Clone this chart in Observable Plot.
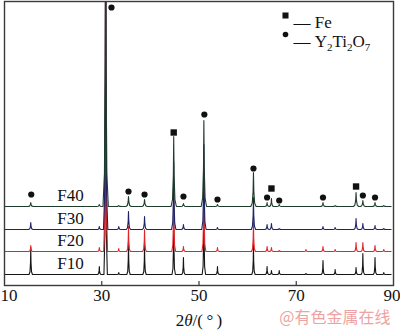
<!DOCTYPE html>
<html>
<head>
<meta charset="utf-8">
<script src="https://cdn.jsdelivr.net/npm/d3@7"></script>
<script src="https://cdn.jsdelivr.net/npm/@observablehq/plot@0.6"></script>
<style>
  html, body { margin: 0; padding: 0; background: #fff; }
  #chart { width: 400px; height: 333px; }
</style>
</head>
<body>
<div id="chart"></div>
<script>
// ---- data (intensity in arbitrary units) ----
const samples = ["F10", "F20", "F30", "F40"];
const sampleColors = ["#151515", "#e0262b", "#1e2266", "#1f3b2c"];
const baselines = [11, 34, 56, 79];
const peakHalfWidth = [0.35, 0.4, 0.45, 0.55];

const peakPositions = [15.4, 29.5, 30.8, 33.5, 35.5, 38.8, 44.8, 46.8, 51.0, 53.8, 61.2, 64.0, 64.9, 66.5, 72.0, 75.5, 78.0, 82.3, 83.7, 86.2, 88.0];
const heightsF10 = [27, 8, 400, 2, 32, 30, 60, 17, 80, 8, 30, 8, 4, 4, 1, 14, 5, 7, 21, 17, 2];
const heightsF20 = [6, 4, 380, 3, 25, 22, 65, 5, 80, 4, 30, 5, 4, 1, 2, 5, 2, 9, 9, 6, 2];
const heightsF30 = [7, 3, 350, 3, 18, 13, 68, 5, 85, 2, 32, 5, 6, 1, 0, 3, 2, 11, 6, 4, 1];
const heightsF40 = [4, 2, 330, 1, 10, 7, 70, 3, 86, 2, 34, 4, 8, 2, 0, 4, 1, 14, 6, 4, 1];
const allHeights = [heightsF10, heightsF20, heightsF30, heightsF40];

const scanStart = 10, scanEnd = 89.5;

// phase markers (placed above the F40 pattern)
const feMarkX = [44.8, 64.9, 82.3];
const feMarkY = [153, 97, 99];
const ytoMarkX = [15.5, 32.0, 35.5, 38.8, 46.8, 51.1, 53.8, 61.2, 64.0, 66.5, 75.5, 83.7, 86.2];
const ytoMarkY = [91, 278, 94, 91, 89, 171, 86, 117, 88, 85, 88, 90, 88];

const xTickLabels = [10, 30, 50, 70, 90];
const xTickMarks = [30, 50, 70];

// peak profile shape (relative offsets and relative heights)
const profileOffsets = [-1, -0.45, -0.14, 0, 0.14, 0.45, 1];
const profileFractions = [0, 0.1, 0.45, 1, 0.45, 0.1, 0];

// ---- build pattern lines from the peak table ----
const patterns = [];
samples.forEach((s, i) => {
  const b = baselines[i];
  const hs = allHeights[i];
  patterns.push({sample: s, x: scanStart, y: b});
  peakPositions.forEach((p, k) => {
    const prev = k > 0 ? peakPositions[k - 1] : scanStart;
    const next = k < peakPositions.length - 1 ? peakPositions[k + 1] : scanEnd;
    const w = Math.min(peakHalfWidth[i], (p - prev) / 2.05, (next - p) / 2.05);
    profileOffsets.forEach((o, j) => {
      patterns.push({sample: s, x: p + o * w, y: b + hs[k] * profileFractions[j]});
    });
  });
  patterns.push({sample: s, x: scanEnd, y: b});
});

const feMarks = feMarkX.map((x, i) => ({x, y: feMarkY[i]}));
const ytoMarks = ytoMarkX.map((x, i) => ({x, y: ytoMarkY[i]}));
const sampleLabels = samples.map((s, i) => ({s, y: baselines[i]}));

const serif = "'Liberation Serif', 'Times New Roman', serif";

const chart = Plot.plot({
  width: 400,
  height: 333,
  marginLeft: 4,
  marginRight: 7,
  marginTop: 1,
  marginBottom: 48,
  style: {fontFamily: serif, background: "#fff", overflow: "visible"},
  x: {domain: [10, 90], axis: null},
  y: {domain: [0, 284], axis: null},
  color: {domain: samples, range: sampleColors},
  marks: [
    Plot.line(patterns, {x: "x", y: "y", z: "sample", stroke: "sample", strokeWidth: 1.1, clip: true, curve: "linear"}),
    Plot.frame({stroke: "#3a3a3a", strokeWidth: 1.4}),
    Plot.ruleX(xTickMarks, {x: d => d, y1: 0, y2: 4, stroke: "#3a3a3a", strokeWidth: 1.2}),
    Plot.text(xTickLabels.slice(1, -1), {x: d => d, frameAnchor: "bottom", dy: 15, text: d => String(d), fontSize: 17, fill: "#111"}),
    Plot.text(xTickLabels.slice(0, 1), {x: d => d, frameAnchor: "bottom", dy: 15, dx: -4, textAnchor: "start", text: d => String(d), fontSize: 17, fill: "#111"}),
    Plot.text(xTickLabels.slice(-1), {x: d => d, frameAnchor: "bottom", dy: 15, dx: 7, textAnchor: "end", text: d => String(d), fontSize: 17, fill: "#111"}),
    Plot.text(["2θ/(°)"], {frameAnchor: "bottom", dy: 40, text: d => d, fontSize: 17, fill: "#111"}),
    Plot.text(sampleLabels, {y: "y", frameAnchor: "left", dx: 66, dy: -11, text: "s", fontSize: 17, fill: "#111", textAnchor: "middle"}),
    Plot.dot(feMarks, {x: "x", y: "y", symbol: "square", r: 3.6, fill: "#111", stroke: "none"}),
    Plot.dot(ytoMarks, {x: "x", y: "y", symbol: "circle", r: 3.1, fill: "#111", stroke: "none"}),
    // legend
    Plot.dot(["Fe"], {frameAnchor: "top-left", dx: 281, dy: 14, symbol: "square", r: 3.4, fill: "#111", stroke: "none"}),
    Plot.dot(["Y2Ti2O7"], {frameAnchor: "top-left", dx: 281, dy: 33, symbol: "circle", r: 2.8, fill: "#111", stroke: "none"}),
    Plot.text(["—\u00a0Fe"], {frameAnchor: "top-left", dx: 289, dy: 14, textAnchor: "start", text: d => d, fontSize: 17, fill: "#111"}),
    Plot.text(["—\u00a0Y2Ti2O7"], {frameAnchor: "top-left", dx: 289, dy: 33, textAnchor: "start", text: d => d, fontSize: 17, fill: "#111"}),
    // watermark
    Plot.text(["@有色金属在线"], {frameAnchor: "bottom-right", dx: -3, dy: 37, textAnchor: "end", text: d => d, fontSize: 16, fill: "#eea3a3", fontFamily: "'Noto Sans CJK SC', sans-serif"})
  ]
});

// rich text: italic theta and chemical subscripts
d3.select(chart).selectAll("text").each(function() {
  const t = d3.select(this);
  const s = this.textContent;
  if (s === "2θ/(°)") {
    t.text(null);
    t.append("tspan").text("2");
    t.append("tspan").attr("font-style", "italic").text("θ");
    t.append("tspan").text("/(\u2009°\u2009)");
  } else if (s === "—\u00a0Y2Ti2O7") {
    t.text(null);
    t.append("tspan").text("—\u00a0Y");
    t.append("tspan").attr("font-size", 11).attr("dy", 4).text("2");
    t.append("tspan").attr("dy", -4).text("Ti");
    t.append("tspan").attr("font-size", 11).attr("dy", 4).text("2");
    t.append("tspan").attr("dy", -4).text("O");
    t.append("tspan").attr("font-size", 11).attr("dy", 4).text("7");
  }
});

document.getElementById("chart").appendChild(chart);
</script>
</body>
</html>
